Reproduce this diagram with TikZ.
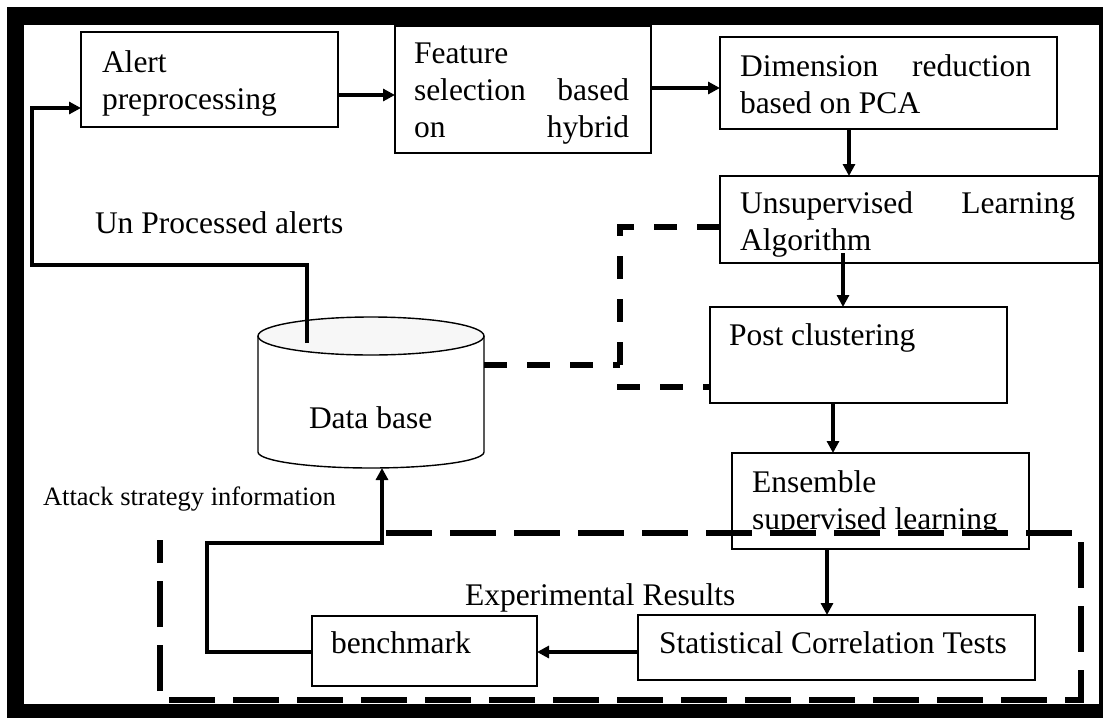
\documentclass[tikz,border=0pt]{standalone}
\usepackage{fontspec}
\setmainfont{Liberation Serif}
\usetikzlibrary{arrows.meta,calc}
\newcommand{\mainfs}{\fontsize{31.5pt}{37pt}\selectfont}
\newcommand{\smallfs}{\fontsize{26.5pt}{31pt}\selectfont}
\newcommand{\jline}[2]{\makebox[#1][s]{#2}}
\begin{document}
\begin{tikzpicture}[x=1pt,y=-1pt,
  box/.style={draw=black, line width=1.4pt, fill=white, anchor=north west, inner sep=0pt, outer sep=0pt},
  lbl/.style={anchor=base west, inner sep=0pt, outer sep=0pt, font=\mainfs, text=black},
  conn/.style={line width=4pt},
  arr/.style={line width=4pt, -{Triangle[length=12pt,width=12pt]}},
  dsh/.style={line width=6.5pt, dash pattern=on 46pt off 18pt},
  sdsh/.style={line width=6pt, dash pattern=on 23pt off 20pt},
]
\useasboundingbox (0,0) rectangle (1103,718);
\fill[white] (0,0) rectangle (1103,718);
% frame
\fill[black] (7,7) rectangle (1103,718);
\fill[white] (24,25) rectangle (1099,704);

% boxes
\node[box, minimum width=257pt, minimum height=95pt] (alert) at (81,32) {};
\node[box, minimum width=256pt, minimum height=127pt] (feature) at (395,26) {};
\node[box, minimum width=337pt, minimum height=92pt] (dim) at (720,37) {};
\node[box, minimum width=379pt, minimum height=87pt] (unsup) at (720,176) {};
\node[box, minimum width=297pt, minimum height=96pt] (post) at (710,307) {};
\node[box, minimum width=297pt, minimum height=96pt] (ens) at (732,453) {};
\node[box, minimum width=397pt, minimum height=65pt] (stat) at (638,615) {};
\node[box, minimum width=225pt, minimum height=70pt] (bench) at (312,616) {};

% box texts
\node[lbl] (alertT) at ($(alert.north west)+(21,40)$) {\parbox[t]{220pt}{Alert\\preprocessing}};
\node[lbl] (featureT) at ($(feature.north west)+(19,37)$) {\parbox[t]{215pt}{Feature\\\jline{215pt}{selection based}\\\jline{215pt}{on hybrid}}};
\node[lbl] (dimT) at ($(dim.north west)+(20,39)$) {\parbox[t]{291pt}{\jline{291pt}{Dimension reduction}\\based on PCA}};
\node[lbl] (unsupT) at ($(unsup.north west)+(20,37)$) {\parbox[t]{335pt}{\jline{335pt}{Unsupervised Learning}\\Algorithm}};
\node[lbl] (postT) at ($(post.north west)+(19,38)$) {Post clustering};
\node[lbl] (ensT) at ($(ens.north west)+(20,39)$) {\parbox[t]{270pt}{Ensemble\\supervised learning}};
\node[lbl] (statT) at ($(stat.north west)+(21,38)$) {Statistical Correlation Tests};
\node[lbl] (benchT) at ($(bench.north west)+(19,37)$) {benchmark};

% database cylinder
\draw[line width=1.4pt, fill=white] (258,336) -- (258,452) arc[start angle=180, end angle=360, x radius=113pt, y radius=16pt] -- (484,336);
\draw[line width=1.4pt, fill=white!97!black] (371,336) ellipse[x radius=113pt, y radius=19pt];
\node[lbl] (db) at (309,428) {Data base};
\coordinate (dbtop) at (307,343);
\coordinate (dbbot) at (382,468);
\coordinate (dbright) at (484,365);

% free labels
\node[lbl] (unproc) at (95,233) {Un Processed alerts};
\node[lbl, font=\smallfs] (attack) at (43,505) {Attack strategy information};
\node[lbl] (exper) at (465,605) {Experimental Results};

% helper coordinates
\coordinate (xa) at (849,0);
\coordinate (xb) at (843,0);
\coordinate (xc) at (833,0);
\coordinate (xd) at (827,0);
\coordinate (la) at (32,265);
\coordinate (lb) at (32,108);
\coordinate (ba) at (207,543);
\coordinate (ya) at (0,95);
\coordinate (yb) at (0,88);
\coordinate (yc) at (0,652);

% solid connectors
\draw[arr] (alert.east |- ya) -- (feature.west |- ya);
\draw[arr] (feature.east |- yb) -- (dim.west |- yb);
\draw[arr] (dim.south -| xa) -- (unsup.north -| xa);
\draw[arr] ($(unsup.south -| xb)+(0,-10)$) -- (post.north -| xb);
\draw[arr] (post.south -| xc) -- (ens.north -| xc);
\draw[arr] (ens.south -| xd) -- (stat.north -| xd);
\draw[arr] (stat.west |- yc) -- (bench.east |- yc);
\draw[arr, line join=miter] (dbtop) |- (la) -- (lb) -- (alert.west |- lb);
\draw[arr, line join=miter] (bench.west |- yc) -| (ba) -| (dbbot);

% dashed connectors
\draw[sdsh] (unsup.west |- 0,227) -- (620,227) -- (620,373);
\draw[sdsh] (dbright) -- (620,365);
\draw[sdsh] (617,387) -- (post.west |- 0,387);

% experimental results dashed frame
\draw[dsh] (386,533) -- (1081,533) -- (1081,700) -- (160,700) -- (160,540);
\end{tikzpicture}
\end{document}
